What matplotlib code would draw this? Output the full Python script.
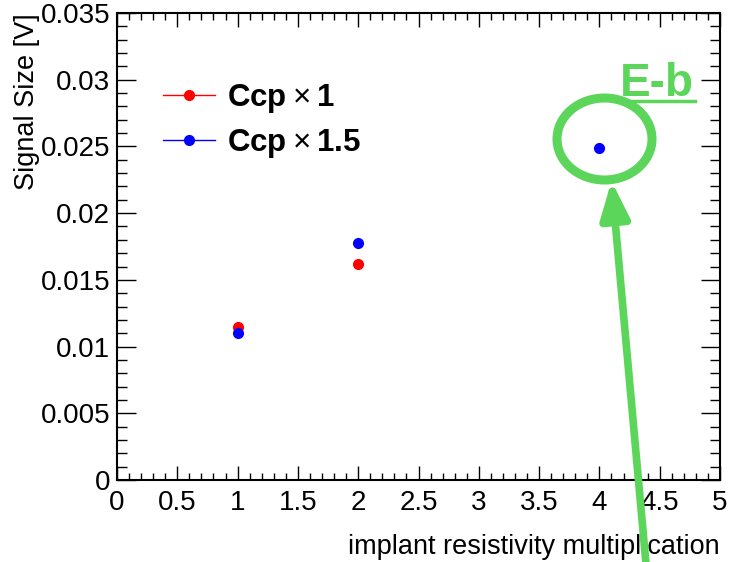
import numpy as np
import matplotlib
matplotlib.use('Agg')
import matplotlib.pyplot as plt
from matplotlib.patches import Ellipse
from matplotlib.ticker import MultipleLocator

plt.rcParams['font.family'] = ['Liberation Sans', 'DejaVu Sans']
plt.rcParams['mathtext.fontset'] = 'custom'
plt.rcParams['mathtext.rm'] = 'Liberation Sans'
plt.rcParams['mathtext.bf'] = 'Liberation Sans:bold'

# Data
x_ccp1 = [1, 2]
y_ccp1 = [0.01144, 0.01619]
x_ccp15 = [1, 2, 4]
y_ccp15 = [0.01100, 0.01774, 0.02486]
labels = [r'$\mathbf{Ccp}\times\mathbf{1}$', r'$\mathbf{Ccp}\times\mathbf{1.5}$']
annot_text = 'E-b'
green = '#5cd65a'

W, H = 729, 562
fig = plt.figure(figsize=(W / 100, H / 100), dpi=100)
ax = fig.add_axes([117 / W, 1 - 480 / H, 603 / W, 467 / H])

ax.plot(x_ccp1, y_ccp1, 'o', color='red', ms=7)
ax.plot(x_ccp15, y_ccp15, 'o', color='blue', ms=7)

ax.set_xlim(0, 5)
ax.set_ylim(0, 0.035)
ax.xaxis.set_major_locator(MultipleLocator(0.5))
ax.xaxis.set_minor_locator(MultipleLocator(0.1))
ax.yaxis.set_major_locator(MultipleLocator(0.005))
ax.yaxis.set_minor_locator(MultipleLocator(0.001))
ax.xaxis.set_major_formatter(plt.FuncFormatter(lambda v, p: f'{v:g}'))
ax.yaxis.set_major_formatter(plt.FuncFormatter(lambda v, p: f'{v:g}'))

for s in ax.spines.values():
    s.set_linewidth(1.5)
ax.tick_params(axis='both', which='both', direction='in', top=True, right=True,
               width=1.0, labelsize=20)
ax.tick_params(axis='x', which='major', length=10, pad=7)
ax.tick_params(axis='x', which='minor', length=5)
ax.tick_params(axis='y', which='major', length=14, pad=5)
ax.tick_params(axis='y', which='minor', length=7)

ax.set_xlabel('implant resistivity multiplication', fontsize=19.5, loc='right')
ax.xaxis.set_label_coords(1.0, -0.115)
ax.set_ylabel('Signal Size [V]', fontsize=19.5, loc='top')
ax.yaxis.set_label_coords(-0.128, 1.0)

# legend with line through the markers, like the ROOT legend
h1, = ax.plot([], [], 'o-', color='red', ms=7, lw=1)
h2, = ax.plot([], [], 'o-', color='blue', ms=7, lw=1)
leg = ax.legend([h1, h2], labels, loc='upper left', bbox_to_anchor=(0.0763, 0.853),
                frameon=False, borderpad=0, borderaxespad=0, handlelength=1.65,
                handletextpad=0.4, labelspacing=0.38,
                prop={'size': 22.5})

# green hand-drawn style annotation (figure pixel positions)
def fx(px):
    return px / W

def fy(py):
    return 1 - py / H

fig.patches.append(Ellipse((fx(604.5), fy(139)), 95 / W, 82 / H, transform=fig.transFigure,
                           fill=False, ec=green, lw=6.5))
fig.text(fx(657), fy(96), annot_text, color=green, fontsize=33, fontweight='bold',
         ha='center', va='baseline')
fig.add_artist(plt.Line2D([fx(617), fx(695)], [fy(101), fy(101)], color=green, lw=2.5,
                          transform=fig.transFigure))
ax.annotate('', xy=(fx(611.5), fy(181)), xycoords='figure fraction',
            xytext=(fx(647), fy(575)), textcoords='figure fraction',
            arrowprops=dict(arrowstyle='-|>,head_length=1.4,head_width=0.55', color=green,
                            lw=5.5, mutation_scale=16, shrinkA=0, shrinkB=0),
            annotation_clip=False)

fig.savefig('out.png', dpi=100)
